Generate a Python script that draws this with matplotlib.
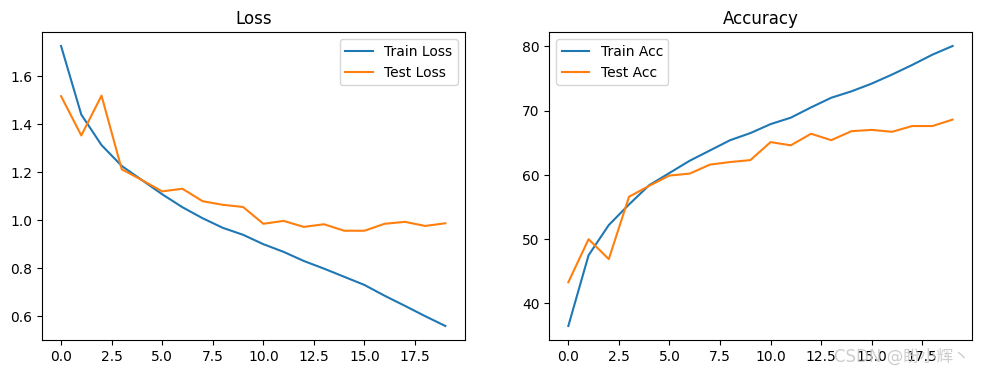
import matplotlib
matplotlib.use('Agg')
import matplotlib.pyplot as plt

epochs = list(range(20))

train_loss = [1.725, 1.439, 1.312, 1.225, 1.166, 1.107, 1.053, 1.007, 0.967, 0.938,
              0.899, 0.867, 0.829, 0.797, 0.763, 0.729, 0.684, 0.642, 0.599, 0.558]
test_loss = [1.516, 1.352, 1.518, 1.211, 1.166, 1.119, 1.130, 1.078, 1.063, 1.054,
             0.984, 0.996, 0.971, 0.982, 0.955, 0.955, 0.984, 0.992, 0.975, 0.986]

train_acc = [36.5, 47.5, 52.2, 55.4, 58.4, 60.3, 62.2, 63.8, 65.4, 66.5,
             67.9, 68.9, 70.5, 72.0, 73.0, 74.2, 75.6, 77.1, 78.7, 80.05]
test_acc = [43.3, 50.0, 46.9, 56.6, 58.3, 59.9, 60.2, 61.6, 62.0, 62.3,
            65.1, 64.6, 66.4, 65.4, 66.8, 67.0, 66.7, 67.6, 67.6, 68.6]

plt.rcParams['font.family'] = ['DejaVu Sans', 'Noto Sans CJK SC']

fig = plt.figure(figsize=(12, 4), dpi=100)

# loss curves
ax1 = fig.add_subplot(1, 2, 1)
ax1.plot(epochs, train_loss, label='Train Loss')
ax1.plot(epochs, test_loss, label='Test Loss')
ax1.set_title('Loss')
ax1.legend()

# accuracy curves
ax2 = fig.add_subplot(1, 2, 2)
ax2.plot(epochs, train_acc, label='Train Acc')
ax2.plot(epochs, test_acc, label='Test Acc')
ax2.set_title('Accuracy')
ax2.legend()

# watermark
ax2.text(0.995, -0.052, 'CSDN @盼小辉丶', transform=ax2.transAxes,
         ha='right', va='center', fontsize=12, color='#c8c8c8', alpha=0.9,
         family=['DejaVu Sans', 'Noto Sans CJK SC'], clip_on=False)

fig.savefig('out.png', dpi=100, bbox_inches='tight')
